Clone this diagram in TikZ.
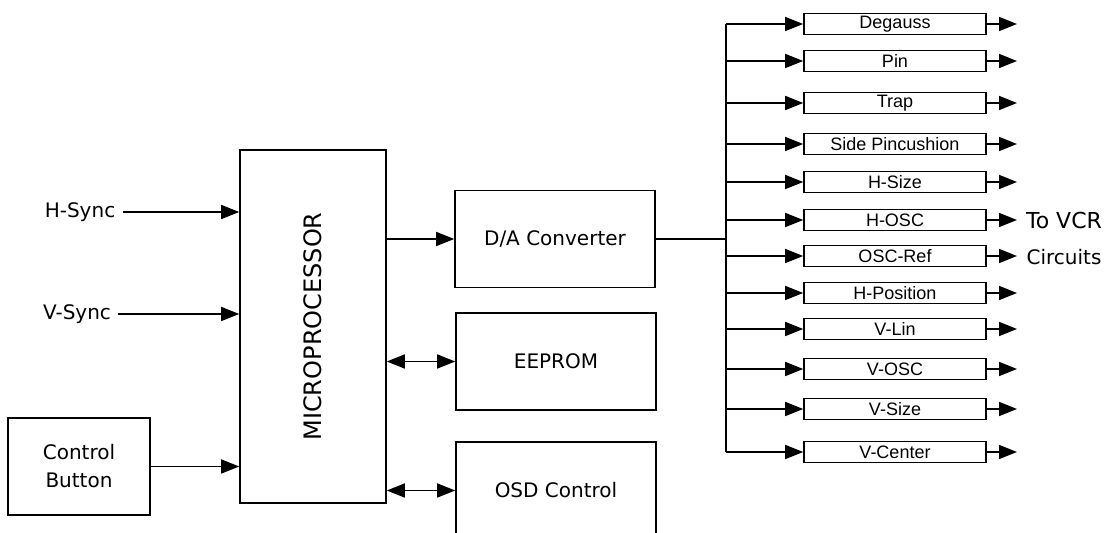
\documentclass[tikz,border=0pt]{standalone}
\usepackage{fontspec,graphicx}
\setmainfont{DejaVu Sans}
\newfontfamily\arialfont{Liberation Sans}
\usetikzlibrary{arrows.meta}

\begin{document}
\begin{tikzpicture}[x=0.5pt, y=-0.5pt, line width=0.8pt,
  font=\fontsize{10}{14}\selectfont,
  box/.style={draw, inner sep=0pt, align=center},
  blk/.style={box, minimum width=100pt, minimum height=48.5pt},
  ctl/.style={box, minimum width=91pt, minimum height=10.5pt,
    font=\arialfont\fontsize{9}{10}\selectfont},
  arr/.style={-{Triangle[length=9pt, width=7pt]}},
  dbl/.style={{Triangle[length=9pt, width=7pt]}-{Triangle[length=9pt, width=7pt]}}]
\useasboundingbox (0,0) rectangle (1110,533);

% ---- inputs, left column
\node (hs) at (80,212) {H-Sync};
\node (vs) at (77,314) {V-Sync};
\node[box, minimum width=71pt, minimum height=48.5pt] (btn) at (79,466.5) {Control\\Button};

% ---- microprocessor and its blocks
\node[box, minimum width=73pt, minimum height=176.5pt] (mcu) at (313,326.5)
  {\fontsize{12}{14}\selectfont\rotatebox{90}{MICROPROCESSOR}};
\node[blk] (dac) at (555,239)   {D/A Converter};
\node[blk] (eep) at (556,361.5) {EEPROM};
\node[blk] (osd) at (556,490.5) {OSD Control};

% ---- control outputs, right column (x=895)
\node[ctl] (dg)   at (895,24)  {Degauss};
\node[ctl] (pin)  at (895,61)  {Pin};
\node[ctl] (trap) at (895,103) {Trap};
\node[ctl] (spc)  at (895,144) {Side Pincushion};
\node[ctl] (hsz)  at (895,182) {H-Size};
\node[ctl] (hosc) at (895,220) {H-OSC};
\node[ctl] (oref) at (895,256) {OSC-Ref};
\node[ctl] (hpos) at (895,293) {H-Position};
\node[ctl] (vlin) at (895,329) {V-Lin};
\node[ctl] (vosc) at (895,369) {V-OSC};
\node[ctl] (vsz)  at (895,409) {V-Size};
\node[ctl] (vc)   at (895,452) {V-Center};

\node[font=\fontsize{11}{13}\selectfont] (tovcr) at (1064,220) {To VCR};
\node (circ) at (1064,257) {Circuits};

\coordinate (bus) at (726,239);
\coordinate (out) at (1017,0);

\draw[arr] (hs.east) -- (hs.east -| mcu.west);
\draw[arr] (vs.east) -- (vs.east -| mcu.west);
\draw[arr] (btn.east) -- (btn.east -| mcu.west);
\draw[arr] (dac.west -| mcu.east) -- (dac.west);
\draw[dbl] (eep.west -| mcu.east) -- (eep.west);
\draw[dbl] (osd.west -| mcu.east) -- (osd.west);

\draw (dac.east) -- (bus);
\draw (bus |- dg) -- (bus |- vc);
\draw[arr] (bus |- dg) -- (dg);     \draw[arr] (dg) -- (dg -| out);
\draw[arr] (bus |- pin) -- (pin);   \draw[arr] (pin) -- (pin -| out);
\draw[arr] (bus |- trap) -- (trap); \draw[arr] (trap) -- (trap -| out);
\draw[arr] (bus |- spc) -- (spc);   \draw[arr] (spc) -- (spc -| out);
\draw[arr] (bus |- hsz) -- (hsz);   \draw[arr] (hsz) -- (hsz -| out);
\draw[arr] (bus |- hosc) -- (hosc); \draw[arr] (hosc) -- (hosc -| out);
\draw[arr] (bus |- oref) -- (oref); \draw[arr] (oref) -- (oref -| out);
\draw[arr] (bus |- hpos) -- (hpos); \draw[arr] (hpos) -- (hpos -| out);
\draw[arr] (bus |- vlin) -- (vlin); \draw[arr] (vlin) -- (vlin -| out);
\draw[arr] (bus |- vosc) -- (vosc); \draw[arr] (vosc) -- (vosc -| out);
\draw[arr] (bus |- vsz) -- (vsz);   \draw[arr] (vsz) -- (vsz -| out);
\draw[arr] (bus |- vc) -- (vc);     \draw[arr] (vc) -- (vc -| out);
\end{tikzpicture}
\end{document}
